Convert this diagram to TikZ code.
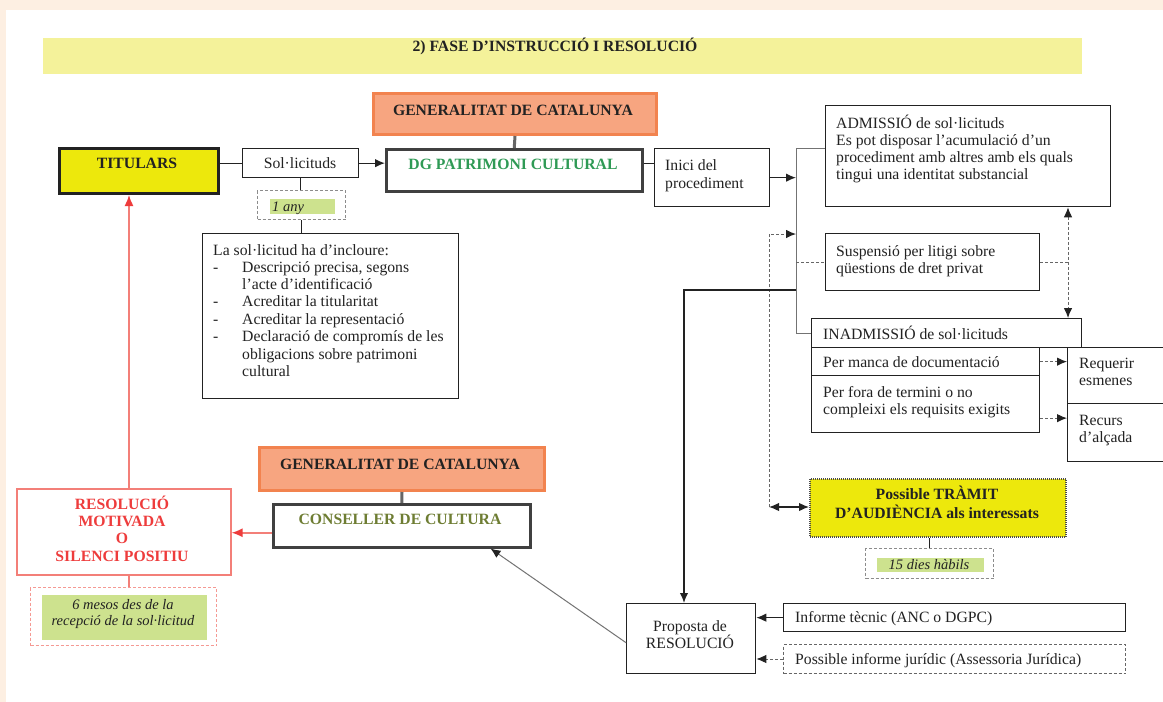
\documentclass[tikz,border=0pt]{standalone}
\usepackage{fontspec}
\setmainfont{Liberation Serif}
\usetikzlibrary{arrows.meta,calc}
\definecolor{peach}{HTML}{FDEFE2}
\definecolor{titley}{HTML}{F4F29A}
\definecolor{orfill}{HTML}{F7A580}
\definecolor{ordraw}{HTML}{F2834F}
\definecolor{yel}{HTML}{EDE80C}
\definecolor{lgreen}{HTML}{CDE28E}
\definecolor{dgreen}{HTML}{2F9A55}
\definecolor{olive}{HTML}{6E7D33}
\definecolor{redt}{HTML}{EE3C3C}
\definecolor{redb}{HTML}{F37F78}
\definecolor{ink}{HTML}{222222}
\newcommand\rbox[6]{\pgfmathsetmacro\rbw{#4-#2}\pgfmathsetmacro\rbh{#5-#3}\node[#6, minimum width=\rbw pt, minimum height=\rbh pt] (#1) at (#2,#3) {};}
\begin{document}
\begin{tikzpicture}[x=1pt,y=-1pt,
 bx/.style={draw=ink,line width=1.3pt,fill=white,inner sep=0,anchor=north west},
 tx/.style={font=\fontsize{15.7}{17}\selectfont,text=ink,inner sep=0,anchor=mid west,yshift=-3pt},
 ctx/.style={tx,anchor=mid},
 btx/.style={ctx,font=\fontsize{15.7}{17}\selectfont\bfseries},
 itx/.style={ctx,font=\fontsize{14.5}{17}\selectfont\itshape},
 genbox/.style={bx,fill=orfill,draw=ordraw,line width=3pt},
 ln/.style={draw=ink,line width=1.2pt},
 tip/.style={-{Latex[length=10pt,width=8.5pt,color=ink]}},
 arr/.style={ln,tip},
 gln/.style={draw=black!55,line width=1pt},
 thk/.style={draw=black!60,line width=3pt},
 dln/.style={draw=black!60,line width=1pt,dash pattern=on 3pt off 2pt},
 darr/.style={dln,tip},
 rln/.style={draw=redb,line width=1.5pt},
 rarr/.style={rln,-{Latex[length=11pt,width=9pt,color=redt]}},
]
\useasboundingbox (0,0) rectangle (1163,702);
\fill[peach] (0,0) rectangle (1163,702);
\fill[white] (6,10) rectangle (1163,702);

% title
\rbox{title}{42}{37}{1081}{73}{bx,draw=none,fill=titley}
\node[btx] (titlet) at (555,46) {2) FASE D’INSTRUCCIÓ I RESOLUCIÓ};

% top left
\rbox{gen1}{372}{92}{655}{133}{genbox}
\node[btx] (gen1t) at (513,110) {GENERALITAT DE CATALUNYA};
\rbox{dg}{385}{148}{641}{190}{bx,line width=2.5pt,draw=black!75}
\node[btx,text=dgreen] (dgt) at (513,164) {DG PATRIMONI CULTURAL};
\rbox{tit}{58}{147}{217}{192}{bx,fill=yel,line width=3pt}
\node[btx] (titt) at (137,163) {TITULARS};
\rbox{sol}{242}{148}{358}{177}{bx}
\node[ctx] (solt) at (300,163) {Sol·licituds};
\rbox{anyo}{257}{190}{345}{219}{bx,draw=black!45,line width=1pt,dash pattern=on 3pt off 2pt}
\rbox{anyi}{269}{198}{334}{213}{bx,draw=none,fill=lgreen}
\node[itx,anchor=mid west] (anyt) at (272,206) {1 any};
\rbox{lst}{202}{233}{458}{398}{bx}
\node[tx] (l1) at (213,250) {La sol·licitud ha d’incloure:};
\node[tx] (l2a) at (213,267) {-};
\node[tx] (l2) at (242,267) {Descripció precisa, segons};
\node[tx] (l3) at (242,284) {l’acte d’identificació};
\node[tx] (l4a) at (213,301) {-};
\node[tx] (l4) at (242,301) {Acreditar la titularitat};
\node[tx] (l5a) at (213,319) {-};
\node[tx] (l5) at (242,319) {Acreditar la representació};
\node[tx] (l6a) at (213,336) {-};
\node[tx] (l6) at (242,336) {Declaració de compromís de les};
\node[tx] (l7) at (242,354) {obligacions sobre patrimoni};
\node[tx] (l8) at (242,371) {cultural};

% right column
\rbox{inici}{654}{148}{769}{206}{bx}
\node[tx] (ini1) at (665,165) {Inici del};
\node[tx] (ini2) at (665,183) {procediment};
\rbox{adm}{825}{105}{1110}{206}{bx}
\node[tx] (adm1) at (836,123) {ADMISSIÓ de sol·licituds};
\node[tx] (adm2) at (836,140) {Es pot disposar l’acumulació d’un};
\node[tx] (adm3) at (836,157) {procediment amb altres amb els quals};
\node[tx] (adm4) at (836,174) {tingui una identitat substancial};
\rbox{susp}{825}{233}{1039}{290}{bx}
\node[tx] (sus1) at (836,251) {Suspensió per litigi sobre};
\node[tx] (sus2) at (836,268) {qüestions de dret privat};
\rbox{inad1}{811}{318}{1081}{347}{bx}
\node[tx] (ina1) at (823,334) {INADMISSIÓ de sol·licituds};
\rbox{inad2}{811}{347}{1039}{375}{bx}
\node[tx] (ina2) at (823,362) {Per manca de documentació};
\rbox{inad3}{811}{375}{1039}{432}{bx}
\node[tx] (ina3) at (823,392) {Per fora de termini o no};
\node[tx] (ina4) at (823,409) {compleixi els requisits exigits};
\rbox{req}{1067}{347}{1185}{403}{bx}
\node[tx] (req1) at (1079,363) {Requerir};
\node[tx] (req2) at (1079,380) {esmenes};
\rbox{rec}{1067}{403}{1185}{461}{bx}
\node[tx] (rec1) at (1079,420) {Recurs};
\node[tx] (rec2) at (1079,437) {d’alçada};
\rbox{tram}{809}{478}{1065}{536}{bx,fill=yel,draw=black!70,line width=1.6pt,dash pattern=on 1pt off 1pt}
\node[btx] (tra1) at (937,494) {Possible TRÀMIT};
\node[btx] (tra2) at (937,513) {D’AUDIÈNCIA als interessats};
\rbox{dieso}{865}{548}{993}{578}{bx,draw=black!45,line width=1pt,dash pattern=on 3pt off 2pt}
\rbox{diesi}{876}{557}{983}{571}{bx,draw=none,fill=lgreen}
\node[itx] (diest) at (929,564) {15 dies hàbils};
\rbox{prop}{626}{603}{755}{673}{bx}
\node[ctx] (pro1) at (690,626) {Proposta de};
\node[ctx] (pro2) at (690,643) {RESOLUCIÓ};
\rbox{inf}{783}{603}{1125}{631}{bx}
\node[tx] (inft) at (795,617) {Informe tècnic (ANC o DGPC)};
\rbox{jur}{783}{644}{1125}{673}{bx,draw=black!60,line width=1pt,dash pattern=on 3pt off 2pt}
\node[tx] (jurt) at (795,659) {Possible informe jurídic (Assessoria Jurídica)};

% bottom left
\rbox{gen2}{258}{446}{543}{489}{genbox}
\node[btx] (gen2t) at (400,464) {GENERALITAT DE CATALUNYA};
\rbox{cons}{272}{503}{529}{546}{bx,line width=2.5pt,draw=black!75}
\node[btx,text=olive] (const) at (400,519) {CONSELLER DE CULTURA};
\rbox{res}{16}{488}{230}{574}{bx,draw=redb,line width=1.6pt}
\node[btx,text=redt] (res1) at (122,504) {RESOLUCIÓ};
\node[btx,text=redt] (res2) at (122,521) {MOTIVADA};
\node[btx,text=redt] (res3) at (122,538) {O};
\node[btx,text=redt] (res4) at (122,556) {SILENCI POSITIU};
\rbox{meso}{30}{587}{216}{645}{bx,draw=redb!80,line width=1pt,dash pattern=on 3pt off 2pt}
\rbox{mesi}{41}{594}{206}{639}{bx,draw=none,fill=lgreen}
\node[itx] (mes1) at (123,604) {6 mesos des de la};
\node[itx] (mes2) at (123,620) {recepció de la sol·licitud};

% helper coordinates
\coordinate (tt) at (796,148);
\coordinate (tb) at (796,333);
\coordinate (dv1) at (769,234);
\coordinate (dv2) at (769,507);
\coordinate (dr) at (1068,262);
\coordinate (pc) at (684,290);
\coordinate (rx) at (129,400);

% connectors
\draw[thk] (gen1.south) -- (dg.north);
\draw[thk] (gen2.south) -- (cons.north);
\draw[ln] (sol.west -| tit.east) -- (sol.west);
\draw[arr] (sol.east) -- (sol.east -| dg.west);
\draw[ln] (sol.south) -- (sol.south |- anyo.north);
\draw[ln] (anyo.south) -- (anyo.south |- lst.north);
\draw[ln] ([yshift=7pt]dg.east) -- ([yshift=7pt]dg.east -| inici.west);
\draw[gln] (tt -| adm.west) -- (tt) -- (tb) -- (tb -| inad1.west);
\draw[arr] (inici.east) -- (inici.east -| tt);
\draw[darr] (dv2) -- (dv1) -- (dv1 -| tt);
\draw[dln] (susp.west -| tt) -- (susp.west);
\draw[dln] (susp.east) -- (susp.east -| dr);
\draw[dln,{Latex[length=10pt,width=8.5pt,color=ink]}-{Latex[length=10pt,width=8.5pt,color=ink]}] (adm.south -| dr) -- (inad1.north -| dr);
\draw[ln,line width=1.6pt,tip] (pc -| tt) -- (pc) -- (pc |- prop.north);
\draw[darr] (inad2.east) -- (inad2.east -| req.west);
\draw[darr] ([yshift=-14pt]inad3.east) -- ([yshift=-14pt]inad3.east -| rec.west);
\draw[ln,{Latex[length=10pt,width=8.5pt]}-{Latex[length=10pt,width=8.5pt]}] (dv2) -- (dv2 -| tram.west);
\draw[ln,line width=1pt] (dieso.north) -- (dieso.north |- tram.south);
\draw[arr] (inf.west) -- (inf.west -| prop.east);
\draw[darr] (jur.west) -- (jur.west -| prop.east);
\draw[gln,tip] ([yshift=-4pt]prop.west) -- ([xshift=-41pt]cons.south east);
\draw[rarr] ([yshift=-7pt]cons.west) -- ([yshift=-7pt]cons.west -| res.east);
\draw[rarr] (res.north -| rx) -- (tit.south -| rx);
\draw[rln] (res.south -| rx) -- (meso.north -| rx);
\end{tikzpicture}
\end{document}
